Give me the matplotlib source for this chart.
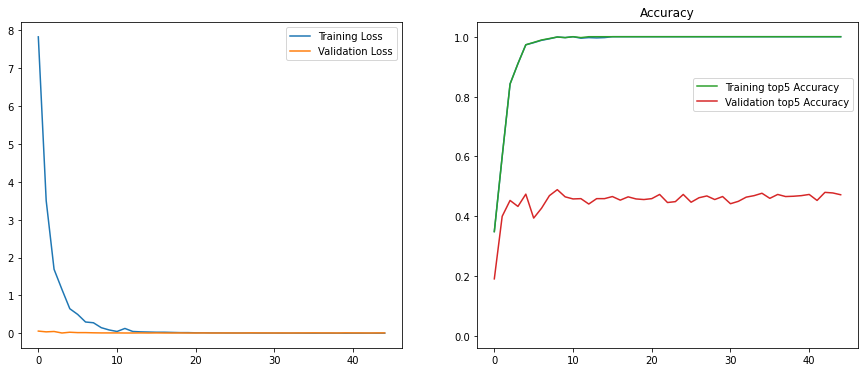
import matplotlib
matplotlib.use("Agg")
import matplotlib.pyplot as plt
import numpy as np

epochs = list(range(45))

train_loss = [7.82, 3.50, 1.69, 1.16, 0.65, 0.50, 0.30, 0.28, 0.15, 0.09,
              0.05, 0.13, 0.05, 0.04, 0.035, 0.03, 0.03, 0.025, 0.02, 0.02,
              0.015, 0.015, 0.012, 0.012, 0.01, 0.01, 0.01, 0.01, 0.008, 0.008,
              0.008, 0.007, 0.007, 0.007, 0.006, 0.006, 0.006, 0.006, 0.005, 0.005,
              0.005, 0.005, 0.005, 0.005, 0.005]
val_loss = [0.06, 0.04, 0.05, 0.01, 0.03, 0.02, 0.02, 0.015, 0.012, 0.012,
            0.012, 0.01, 0.01, 0.012, 0.01, 0.012, 0.01, 0.01, 0.012, 0.01,
            0.01, 0.012, 0.01, 0.01, 0.012, 0.01, 0.01, 0.014, 0.012, 0.012,
            0.01, 0.012, 0.01, 0.012, 0.012, 0.014, 0.012, 0.012, 0.01, 0.014,
            0.012, 0.012, 0.01, 0.012, 0.012]

train_acc = [0.349, 0.60, 0.842, 0.91, 0.973, 0.98, 0.988, 0.993, 0.999, 0.997,
             1.0, 0.995, 0.997, 0.996, 0.997] + [1.0] * 30
train_top5 = [0.349, 0.60, 0.842, 0.91, 0.973, 0.981, 0.989, 0.994, 0.999, 0.997,
              1.0, 0.997, 1.0, 1.0, 1.0] + [1.0] * 30
val_top5 = [0.191, 0.400, 0.453, 0.433, 0.474, 0.394, 0.427, 0.469, 0.489, 0.465,
            0.458, 0.459, 0.441, 0.459, 0.459, 0.466, 0.454, 0.465, 0.458, 0.456,
            0.459, 0.473, 0.446, 0.449, 0.473, 0.447, 0.462, 0.468, 0.456, 0.466,
            0.442, 0.450, 0.464, 0.469, 0.477, 0.460, 0.473, 0.466, 0.467, 0.469,
            0.473, 0.453, 0.480, 0.478, 0.472]

fig = plt.figure(figsize=(12, 5.18), dpi=72)
ax1 = fig.add_axes([21/864, 24/373, 381/864, 326/373])
ax2 = fig.add_axes([477/864, 24/373, 381/864, 326/373])

ax1.plot(epochs, train_loss, label="Training Loss")
ax1.plot(epochs, val_loss, label="Validation Loss")
ax1.legend(loc="upper right")

ax2.plot(epochs, train_acc, color="C0")
ax2.plot([], [], color="C1")
ax2.plot(epochs, train_top5, color="C2", label="Training top5 Accuracy")
ax2.plot(epochs, val_top5, color="C3", label="Validation top5 Accuracy")
ax2.set_ylim(-0.04, 1.049)
ax2.set_title("Accuracy")
ax2.legend(loc="upper right", bbox_to_anchor=(1.0, 0.845))

fig.savefig("out.png", dpi=72)
